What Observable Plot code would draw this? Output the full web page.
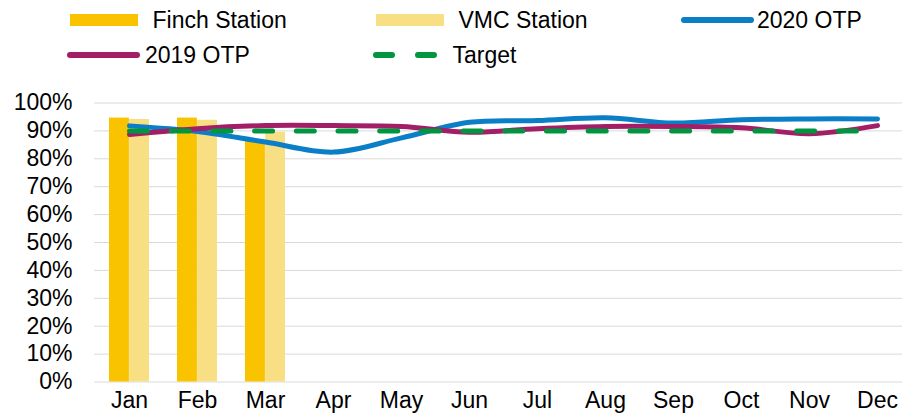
<!DOCTYPE html>
<html>
<head>
<meta charset="utf-8">
<script src="https://cdn.jsdelivr.net/npm/d3@7"></script>
<script src="https://cdn.jsdelivr.net/npm/@observablehq/plot@0.6"></script>
<style>
  html, body { margin: 0; padding: 0; background: #fff; }
  body { width: 902px; height: 414px; overflow: hidden; font-family: "Liberation Sans", Arial, sans-serif; }
  #legend { display: block; }
  #chart svg { display: block; }
</style>
</head>
<body>
<svg id="legend" width="902" height="75"></svg>
<div id="chart"></div>
<script>
const months = ["Jan", "Feb", "Mar", "Apr", "May", "Jun", "Jul", "Aug", "Sep", "Oct", "Nov", "Dec"];
const finchStation = [94.6, 94.6, 86.5, null, null, null, null, null, null, null, null, null];
const vmcStation   = [94.1, 93.8, 89.5, null, null, null, null, null, null, null, null, null];
const otp2020 = [91.8, 89.8, 86.0, 82.4, 87.5, 93.1, 93.7, 94.7, 92.8, 94.0, 94.3, 94.3];
const otp2019 = [88.7, 90.8, 91.9, 91.9, 91.6, 89.5, 90.8, 91.6, 91.6, 91.1, 89.0, 91.9];
const target  = [90, 90, 90, 90, 90, 90, 90, 90, 90, 90, 90, 90];
const yTicks = [0, 10, 20, 30, 40, 50, 60, 70, 80, 90, 100];

const colors = {
  finch: "#f9c300",
  vmc: "#f9df84",
  otp2020: "#0a7fc8",
  otp2019: "#a21f68",
  target: "#009640",
  grid: "#d9d9d9"
};

const rows = months.map((m, i) => ({
  month: m,
  finch: finchStation[i],
  vmc: vmcStation[i],
  otp2020: otp2020[i],
  otp2019: otp2019[i],
  target: target[i]
}));

// Legend (above the chart)
const legendItems = [
  {label: "Finch Station", type: "rect", color: colors.finch, x0: 70, x1: 138, y: 20, tx: 152.5, ty: 27.5},
  {label: "VMC Station", type: "rect", color: colors.vmc, x0: 376, x1: 444, y: 20, tx: 458.5, ty: 27.5},
  {label: "2020 OTP", type: "line", color: colors.otp2020, x0: 684, x1: 751, y: 20, tx: 757, ty: 27.5},
  {label: "2019 OTP", type: "line", color: colors.otp2019, x0: 70, x1: 137, y: 55, tx: 145, ty: 63.3},
  {label: "Target", type: "dash", color: colors.target, x0: 376, x1: 438, y: 55, tx: 452.5, ty: 63.3}
];
const leg = d3.select("#legend");
for (const it of legendItems) {
  if (it.type === "rect") {
    leg.append("rect").attr("x", it.x0).attr("y", it.y - 6).attr("width", it.x1 - it.x0).attr("height", 12).attr("fill", it.color);
  } else if (it.type === "line") {
    leg.append("line").attr("x1", it.x0).attr("x2", it.x1).attr("y1", it.y).attr("y2", it.y)
      .attr("stroke", it.color).attr("stroke-width", 6).attr("stroke-linecap", "round");
  } else {
    leg.append("line").attr("x1", it.x0).attr("x2", it.x1).attr("y1", it.y).attr("y2", it.y)
      .attr("stroke", it.color).attr("stroke-width", 6).attr("stroke-linecap", "round")
      .attr("stroke-dasharray", "16,26");
  }
  leg.append("text").attr("x", it.tx).attr("y", it.ty).attr("font-size", 23)
    .attr("font-family", "Liberation Sans, Arial, sans-serif").attr("fill", "#000").text(it.label);
}

const chart = Plot.plot({
  width: 902,
  height: 339,
  marginTop: 27.5,
  marginBottom: 32.5,
  marginLeft: 94,
  marginRight: -10,
  style: {fontFamily: "Liberation Sans, Arial, sans-serif", fontSize: "23px", color: "#000", background: "#fff"},
  x: {domain: months, paddingInner: 0.41, paddingOuter: 0.205, label: null, tickSize: 0, tickPadding: 10},
  y: {domain: [0, 100], ticks: yTicks, tickFormat: d => d + "%", label: null, tickSize: 0, tickPadding: 22},
  marks: [
    Plot.ruleY(yTicks, {stroke: colors.grid, strokeWidth: 1}),
    Plot.barY(rows.filter(d => d.finch != null), {x: "month", y: "finch", fill: colors.finch, insetRight: 20.1}),
    Plot.barY(rows.filter(d => d.vmc != null), {x: "month", y: "vmc", fill: colors.vmc, insetLeft: 20.1}),
    Plot.lineY(rows, {x: "month", y: "otp2020", stroke: colors.otp2020, strokeWidth: 5, curve: "catmull-rom", strokeLinecap: "round"}),
    Plot.lineY(rows, {x: "month", y: "otp2019", stroke: colors.otp2019, strokeWidth: 5, curve: "catmull-rom", strokeLinecap: "round"}),
    Plot.lineY(rows, {x: "month", y: "target", stroke: colors.target, strokeWidth: 5, strokeLinecap: "round", strokeDasharray: "18,23.7"})
  ]
});
document.getElementById("chart").appendChild(chart);
</script>
</body>
</html>
